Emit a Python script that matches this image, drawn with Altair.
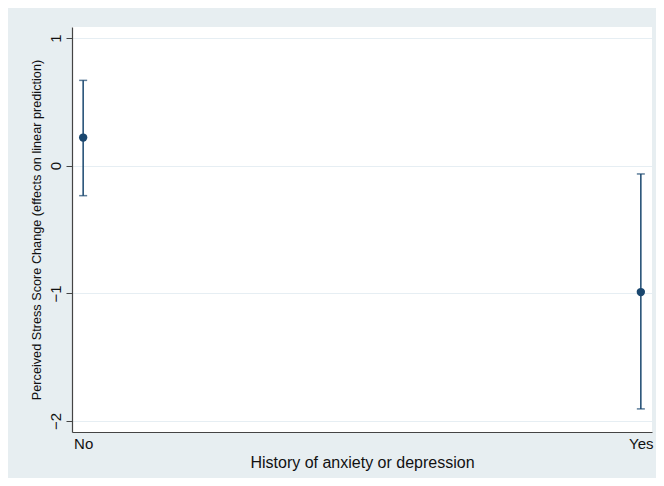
import altair as alt
import pandas as pd

categories = ["No", "Yes"]
margins = [0.22, -0.99]
ci_low = [-0.235, -1.905]
ci_high = [0.668, -0.065]
y_ticks = [-2, -1, 0, 1]

df = pd.DataFrame({"cat": categories, "m": margins, "lo": ci_low, "hi": ci_high})

navy = "#1a476f"
font = "Liberation Sans"

xscale = alt.Scale(type="point", padding=0.02)
yscale = alt.Scale(domain=[-2.086, 1.086], nice=False, zero=False)

xaxis = alt.Axis(
    title="History of anxiety or depression", titleFontSize=16, titleFont=font,
    titleFontWeight="normal", titleColor="#111", titleY=35, titleBaseline="alphabetic",
    labelAngle=0, labelFontSize=15, labelFont=font, labelColor="#111",
    ticks=False, tickSize=0, labelPadding=4, domainColor="#444", domainWidth=1.2,
    grid=False,
)
yaxis = alt.Axis(
    title="Perceived Stress Score Change (effects on linear prediction)",
    titleFontSize=12.7, titleFont=font, titleFontWeight="normal", titleColor="#111",
    titleX=-36, titleBaseline="middle", titleAngle=270,
    values=y_ticks, format="d", labelAngle=270, labelAlign="center", labelBaseline="middle",
    labelFontSize=15, labelFont=font, labelColor="#111", labelPadding=11,
    tickSize=6, tickColor="#444", domainColor="#444", domainWidth=1.2,
    grid=True, gridColor="#e6eef3", gridWidth=1.2,
)

base = alt.Chart(df)
rule = base.mark_rule(color=navy, strokeWidth=1.5).encode(
    x=alt.X("cat:N", scale=xscale, axis=xaxis, sort=categories),
    y=alt.Y("lo:Q", scale=yscale, axis=yaxis),
    y2="hi:Q",
)
cap_lo = base.mark_tick(color=navy, size=8, thickness=1.5, orient="horizontal").encode(
    x=alt.X("cat:N", scale=xscale, sort=categories), y=alt.Y("lo:Q", scale=yscale)
)
cap_hi = base.mark_tick(color=navy, size=8, thickness=1.5, orient="horizontal").encode(
    x=alt.X("cat:N", scale=xscale, sort=categories), y=alt.Y("hi:Q", scale=yscale)
)
pts = base.mark_point(filled=True, color=navy, size=70, opacity=1).encode(
    x=alt.X("cat:N", scale=xscale, sort=categories), y=alt.Y("m:Q", scale=yscale)
)

chart = alt.layer(rule, cap_lo, cap_hi, pts).properties(
    width=580, height=405,
    background="#e7eef1",
    padding={"left": 64, "top": 19, "right": 4, "bottom": 46},
    autosize=alt.AutoSizeParams(type="none"),
).configure_view(fill="white", stroke=None)

chart.save("out.html", embed_options={"renderer": "svg", "actions": False})
